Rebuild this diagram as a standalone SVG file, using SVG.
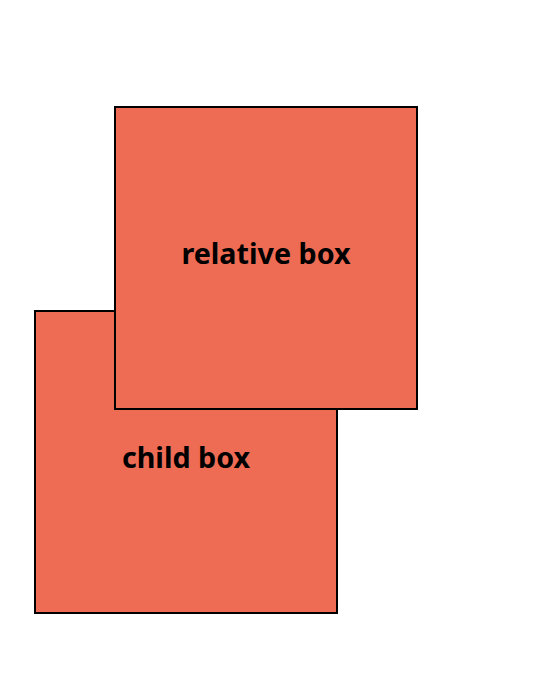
<svg xmlns="http://www.w3.org/2000/svg" width="536" height="678" viewBox="0 0 536 678">
<style>
.box{fill:#ef6c54;stroke:#000;stroke-width:2}
.lbl{font-family:"Noto Sans","Open Sans",sans-serif;font-weight:bold;font-size:28.7px;fill:#000;text-anchor:middle}
</style>
<rect width="536" height="678" fill="#fff"/>
<g id="child-box">
<rect class="box" x="35" y="311" width="302" height="302"/>
<text class="lbl" x="186" y="468">child box</text>
</g>
<g id="relative-box">
<rect class="box" x="115" y="107" width="302" height="302"/>
<text class="lbl" x="266" y="264">relative box</text>
</g>
<g id="connectors"/>
</svg>
